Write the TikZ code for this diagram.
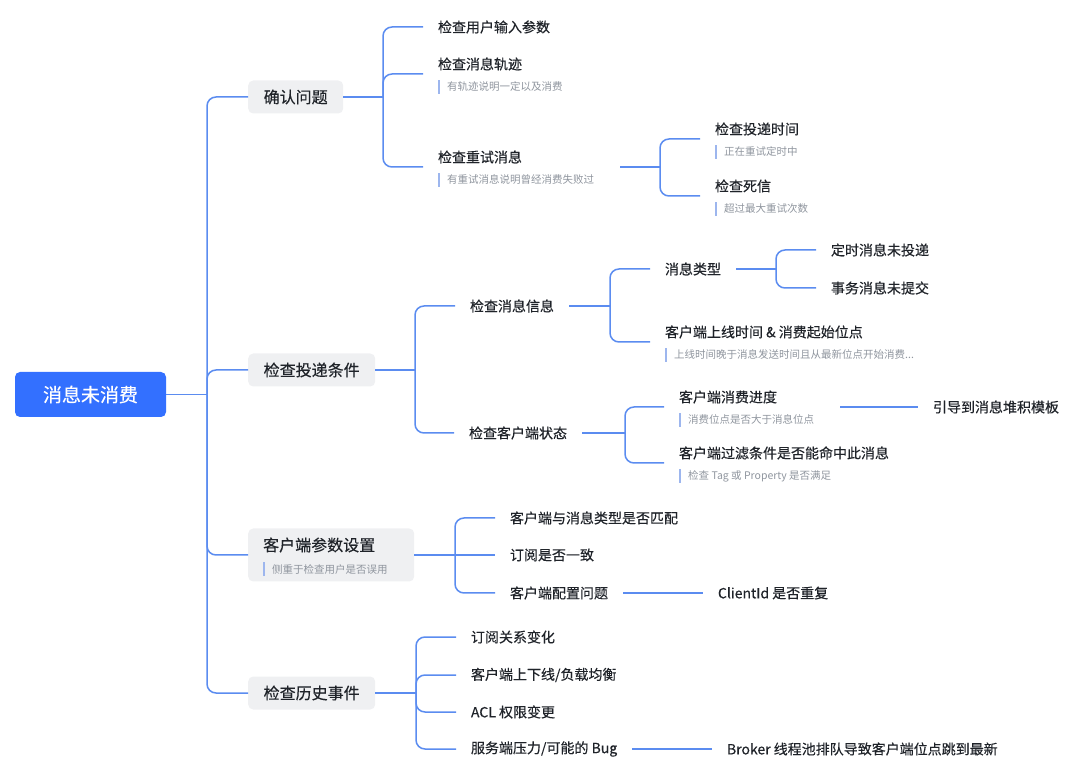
\documentclass[tikz,border=0pt]{standalone}
\usepackage{fontspec}
\setmainfont{Noto Sans CJK SC}
\newfontfamily\medfont[FakeBold=0.35]{Noto Sans CJK SC}
\definecolor{rootblue}{HTML}{3370FF}
\definecolor{linkblue}{HTML}{5B8CF0}
\definecolor{boxgrey}{HTML}{EFF0F2}
\definecolor{txt}{HTML}{1F2329}
\definecolor{notegrey}{HTML}{8F959E}
\definecolor{barblue}{HTML}{9DB6EE}
\newcommand{\nbar}{\textcolor{barblue}{\rule[-3pt]{1.3pt}{14pt}}\hspace{7.7pt}}
\begin{document}
\begin{tikzpicture}[x=1pt,y=-1pt,
  conn/.style={draw=linkblue, line width=1.5pt, rounded corners=9pt},
  rootbox/.style={fill=rootblue, rounded corners=5pt, text=white, font=\medfont\fontsize{19}{19}\selectfont, minimum width=151pt, minimum height=45pt, inner sep=0},
  lvone/.style={fill=boxgrey, rounded corners=5pt, text=txt, font=\medfont\fontsize{16}{16}\selectfont, minimum height=33pt, inner xsep=15.5pt, inner ysep=0, anchor=west},
  itm/.style={text=txt, font=\medfont\fontsize{14}{14}\selectfont, inner sep=0, outer xsep=15pt, anchor=west},
  ttl/.style={text=txt, font=\medfont\fontsize{14}{14}\selectfont, inner sep=0, outer xsep=15pt, anchor=west},
  nte/.style={text=notegrey, font=\fontsize{10.5}{10.5}\selectfont, inner sep=0, anchor=west}
]
\useasboundingbox (0,0) rectangle (1080,783);

% root
\node[rootbox] (root) at (90.5,394.5) {消息未消费};
\coordinate (j0) at (207,394.5);
\draw[conn] (root.east) -- (j0);

% level 1
\node[lvone] (A) at (248,97) {确认问题};
\node[lvone] (B) at (248,370) {检查投递条件};
\node[fill=boxgrey, rounded corners=5pt, minimum width=166pt, minimum height=53pt, inner sep=0, anchor=west] (C) at (248,555) {};
\node[text=txt, font=\medfont\fontsize{16}{16}\selectfont, inner sep=0, anchor=west] (Ct) at (263,545) {客户端参数设置};
\node[nte] (Cn) at (263,569) {\nbar 侧重于检查用户是否误用};
\node[lvone] (D) at (248,693) {检查历史事件};

\draw[conn] (j0) |- (A.west);
\draw[conn] (j0) |- (B.west);
\draw[conn] (j0) |- (C.west);
\draw[conn] (j0) |- (D.west);

% ---- A: 确认问题
\coordinate (jA) at (383,97);
\draw[conn] (A.east) -- (jA);
\node[itm] (A1) at (423,27) {检查用户输入参数};
\node[ttl] (A2) at (423,64) {检查消息轨迹};
\node[nte] (A2n) at (438,87) {\nbar 有轨迹说明一定以及消费};
\node[ttl] (A3) at (423,157) {检查重试消息};
\node[nte] (A3n) at (438,180) {\nbar 有重试消息说明曾经消费失败过};
\draw[conn] (jA) |- (A1.west);
\draw[conn] (jA) |- ([yshift=-10pt]A2.west);
\draw[conn] (jA) |- ([yshift=-10pt]A3.west);

\coordinate (A3o) at (620,167);
\coordinate (jA3) at (660,167);
\draw[conn] (A3o) -- (jA3);
\node[ttl] (A31) at (700,129) {检查投递时间};
\node[nte] (A31n) at (715,152) {\nbar 正在重试定时中};
\node[ttl] (A32) at (700,186) {检查死信};
\node[nte] (A32n) at (715,209) {\nbar 超过最大重试次数};
\draw[conn] (jA3) |- ([yshift=-10pt]A31.west);
\draw[conn] (jA3) |- ([yshift=-10pt]A32.west);

% ---- B: 检查投递条件
\coordinate (jB) at (415,370);
\draw[conn] (B.east) -- (jB);
\node[itm] (B1) at (455,306) {检查消息信息};
\node[itm] (B2) at (454,433) {检查客户端状态};
\draw[conn] (jB) |- (B1.west);
\draw[conn] (jB) |- (B2.west);

\coordinate (jB1) at (610,306);
\draw[conn] (B1.east) -- (jB1);
\node[itm] (B11) at (650,269) {消息类型};
\node[ttl] (B12) at (650,332) {客户端上线时间 \& 消费起始位点};
\node[nte] (B12n) at (665,355) {\nbar 上线时间晚于消息发送时间且从最新位点开始消费...};
\draw[conn] (jB1) |- (B11.west);
\draw[conn] (jB1) |- ([yshift=-10pt]B12.west);

\coordinate (jB11) at (776,269);
\draw[conn] (B11.east) -- (jB11);
\node[itm] (B111) at (816,250) {定时消息未投递};
\node[itm] (B112) at (816,288) {事务消息未提交};
\draw[conn] (jB11) |- (B111.west);
\draw[conn] (jB11) |- (B112.west);

\coordinate (jB2) at (625,433);
\draw[conn] (B2.east) -- (jB2);
\node[ttl] (B21) at (664,397) {客户端消费进度};
\node[nte] (B21n) at (679,420) {\nbar 消费位点是否大于消息位点};
\node[ttl] (B22) at (664,453) {客户端过滤条件是否能命中此消息};
\node[nte] (B22n) at (679,476) {\nbar 检查 Tag 或 Property 是否满足};
\draw[conn] (jB2) |- ([yshift=-10pt]B21.west);
\draw[conn] (jB2) |- ([yshift=-10pt]B22.west);

\coordinate (B21o) at (840,407);
\node[itm] (B211) at (918,407) {引导到消息堆积模板};
\draw[conn] (B21o) -- (B211.west);

% ---- C: 客户端参数设置
\coordinate (jC) at (455,555);
\draw[conn] (C.east) -- (jC);
\node[itm] (C1) at (495,518) {客户端与消息类型是否匹配};
\node[itm] (C2) at (495,555) {订阅是否一致};
\node[itm] (C3) at (495,593) {客户端配置问题};
\draw[conn] (jC) |- (C1.west);
\draw[conn] (jC) -- (C2.west);
\draw[conn] (jC) |- (C3.west);
\node[itm] (C31) at (703,593) {ClientId 是否重复};
\draw[conn] (C3.east) -- (C31.west);

% ---- D: 检查历史事件
\coordinate (jD) at (416,693);
\draw[conn] (D.east) -- (jD);
\node[itm] (D1) at (456,637) {订阅关系变化};
\node[itm] (D2) at (456,675) {客户端上下线/负载均衡};
\node[itm] (D3) at (456,712) {ACL 权限变更};
\node[itm] (D4) at (456,749) {服务端压力/可能的 Bug};
\draw[conn] (jD) |- (D1.west);
\draw[conn] (jD) |- (D2.west);
\draw[conn] (jD) |- (D3.west);
\draw[conn] (jD) |- (D4.west);
\node[itm] (D41) at (712,749) {Broker 线程池排队导致客户端位点跳到最新};
\draw[conn] (D4.east) -- (D41.west);
\end{tikzpicture}
\end{document}
